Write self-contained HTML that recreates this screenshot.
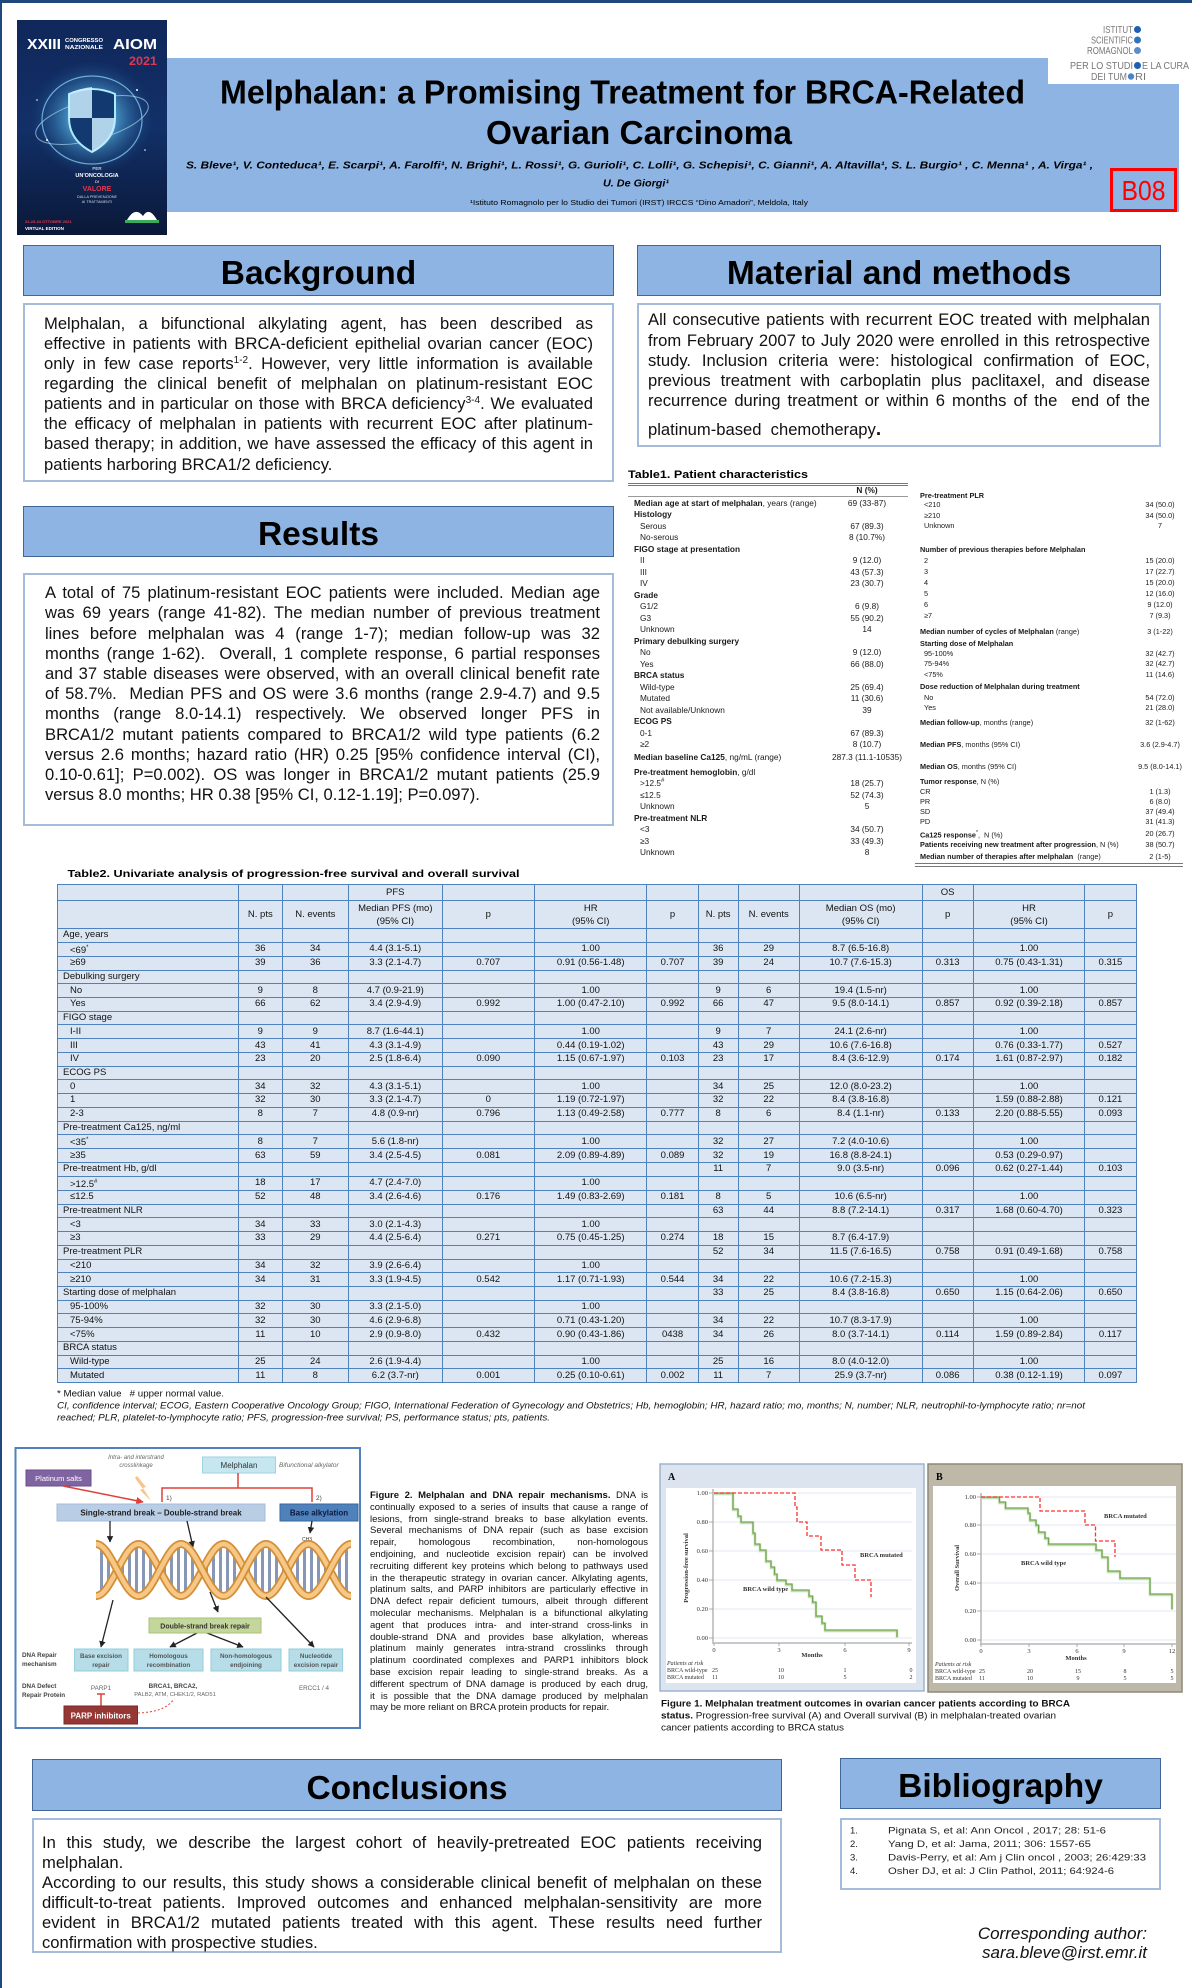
<!DOCTYPE html>
<html><head><meta charset="utf-8">
<style>
*{box-sizing:border-box}
body{margin:0;background:#fff}
#p{position:relative;width:1192px;height:1988px;overflow:hidden;background:#fff;font-family:"Liberation Sans",Arial,sans-serif;color:#000}
.a{position:absolute}
.hdr{position:absolute;background:#8EB4E3;border:1.5px solid #41679A;font-weight:bold;font-size:33.5px;display:flex;align-items:center;justify-content:center;color:#000;padding-top:7px;line-height:34px}
.box{position:absolute;background:#fff;border:2px solid #A4BBD9}
.ln{position:absolute;height:20px;line-height:20px;font-size:16.6px;overflow:hidden;color:#111}
.j{text-align:justify;text-align-last:justify}
.ln sup{font-size:10px;line-height:0;vertical-align:6px}
.r,.q{position:absolute;height:11px;line-height:11px;white-space:nowrap;color:#1a1a1a}
.r{left:628px;width:280px;font-size:8.3px}
.q{left:915px;width:272px;font-size:7.3px}
.r span,.q span{position:absolute;top:0}
.r .l{left:6px}.r .i{left:12px}.r .v{left:199px;width:80px;text-align:center}
.q .l{left:5px}.q .i{left:9px}.q .v{left:205px;width:80px;text-align:center}
.r sup{font-size:6px;line-height:0}
.t2{position:absolute;left:57px;top:884px;border-collapse:collapse;table-layout:fixed;width:1079px;background:#DCE6F2;font-size:9.5px;color:#111}
.t2 td{border:1px solid #4F81BD;padding:0;text-align:center;line-height:10px;white-space:nowrap;overflow:hidden}
.t2 tr{height:13.73px}
.t2 tr.h1{height:16px}
.t2 tr.h2{height:28px}
.t2 tr.h2 td{line-height:13px}
.t2 td.l{text-align:left;padding-left:5px}
.t2 td.s{text-align:left;padding-left:12px}
.fc{position:absolute;left:370px;width:278px;height:11.8px;line-height:11.8px;font-size:9.5px;overflow:hidden;color:#111}
</style></head><body><div id="p">

<!-- outer frame lines -->
<div class="a" style="left:0;top:0;width:1192px;height:3px;background:#1F497D"></div>
<div class="a" style="left:0;top:0;width:2px;height:1988px;background:#1F497D"></div>

<!-- title band -->
<div class="a" style="left:167px;top:58px;width:1012px;height:154px;background:#8EB4E3"></div>

<!-- section headers & boxes -->
<div class="hdr" style="left:23px;top:245px;width:591px;height:51px">Background</div>
<div class="hdr" style="left:637px;top:245px;width:524px;height:51px">Material and methods</div>
<div class="box" style="left:23px;top:303px;width:591px;height:179px"></div>
<div class="box" style="left:637px;top:303px;width:524px;height:144px"></div>
<div class="hdr" style="left:23px;top:506px;width:591px;height:51px">Results</div>
<div class="box" style="left:23px;top:573px;width:591px;height:253px"></div>
<div class="hdr" style="left:32px;top:1759px;width:750px;height:52px">Conclusions</div>
<div class="box" style="left:32px;top:1818px;width:750px;height:135px"></div>
<div class="hdr" style="left:840px;top:1758px;width:321px;height:51px">Bibliography</div>
<div class="box" style="left:840px;top:1818px;width:321px;height:72px"></div>

<!-- Background text -->
<div class="ln j" style="left:44px;top:314px;width:549px">Melphalan, a bifunctional alkylating agent, has been described as</div>
<div class="ln j" style="left:44px;top:334px;width:549px">effective in patients with BRCA-deficient epithelial ovarian cancer (EOC)</div>
<div class="ln j" style="left:44px;top:354px;width:549px">only in few case reports<sup>1-2</sup>. However, very little information is available</div>
<div class="ln j" style="left:44px;top:374px;width:549px">regarding the clinical benefit of melphalan on platinum-resistant EOC</div>
<div class="ln j" style="left:44px;top:394px;width:549px">patients and in particular on those with BRCA deficiency<sup>3-4</sup>. We evaluated</div>
<div class="ln j" style="left:44px;top:414px;width:549px">the efficacy of melphalan in patients with recurrent EOC after platinum-</div>
<div class="ln j" style="left:44px;top:434px;width:549px">based therapy; in addition, we have assessed the efficacy of this agent in</div>
<div class="ln" style="left:44px;top:455px;width:549px">patients harboring BRCA1/2 deficiency.</div>

<!-- Material text -->
<div class="ln j" style="left:648px;top:310px;width:502px">All consecutive patients with recurrent EOC treated with melphalan</div>
<div class="ln j" style="left:648px;top:331px;width:502px">from February 2007 to July 2020 were enrolled in this retrospective</div>
<div class="ln j" style="left:648px;top:351px;width:502px">study. Inclusion criteria were: histological confirmation of EOC,</div>
<div class="ln j" style="left:648px;top:371px;width:502px">previous treatment with carboplatin plus paclitaxel, and disease</div>
<div class="ln j" style="left:648px;top:391px;width:502px">recurrence during treatment or within 6 months of the &nbsp;end of the</div>
<div class="ln" style="left:648px;top:420px;width:502px;height:22px">platinum-based &nbsp;chemotherapy<b style="font-size:19px">.</b></div>

<!-- Results text -->
<div class="ln j" style="left:45px;top:583px;width:555px">A total of 75 platinum-resistant EOC patients were included. Median age</div>
<div class="ln j" style="left:45px;top:603px;width:555px">was 69 years (range 41-82). The median number of previous treatment</div>
<div class="ln j" style="left:45px;top:624px;width:555px">lines before melphalan was 4 (range 1-7); median follow-up was 32</div>
<div class="ln j" style="left:45px;top:644px;width:555px">months (range 1-62). &nbsp;Overall, 1 complete response, 6 partial responses</div>
<div class="ln j" style="left:45px;top:664px;width:555px">and 37 stable diseases were observed, with an overall clinical benefit rate</div>
<div class="ln j" style="left:45px;top:684px;width:555px">of 58.7%. &nbsp;Median PFS and OS were 3.6 months (range 2.9-4.7) and 9.5</div>
<div class="ln j" style="left:45px;top:704px;width:555px">months (range 8.0-14.1) respectively. We observed longer PFS in</div>
<div class="ln j" style="left:45px;top:725px;width:555px">BRCA1/2 mutant patients compared to BRCA1/2 wild type patients (6.2</div>
<div class="ln j" style="left:45px;top:745px;width:555px">versus 2.6 months; hazard ratio (HR) 0.25 [95% confidence interval (CI),</div>
<div class="ln j" style="left:45px;top:765px;width:555px">0.10-0.61]; P=0.002). OS was longer in BRCA1/2 mutant patients (25.9</div>
<div class="ln" style="left:45px;top:785px;width:555px">versus 8.0 months; HR 0.38 [95% CI, 0.12-1.19]; P=0.097).</div>

<!-- Conclusions text -->
<div class="ln j" style="left:42px;top:1833px;width:720px">In this study, we describe the largest cohort of heavily-pretreated EOC patients receiving</div>
<div class="ln" style="left:42px;top:1853px;width:720px">melphalan.</div>
<div class="ln j" style="left:42px;top:1873px;width:720px">According to our results, this study shows a considerable clinical benefit of melphalan on these</div>
<div class="ln j" style="left:42px;top:1893px;width:720px">difficult-to-treat patients. Improved outcomes and enhanced melphalan-sensitivity are more</div>
<div class="ln j" style="left:42px;top:1913px;width:720px">evident in BRCA1/2 mutated patients treated with this agent. These results need further</div>
<div class="ln" style="left:42px;top:1933px;width:720px">confirmation with prospective studies.</div>

<!-- Table 1 -->
<div class="a" style="left:628px;top:482.5px;width:280px;height:1px;background:#777"></div>
<div class="a" style="left:628px;top:485px;width:280px;height:1px;background:#777"></div>
<div class="a" style="left:628px;top:496px;width:280px;height:1px;background:#999"></div>
<div class="r" style="top:484.5px"><span class="v"><b>N (%)</b></span></div>
<div class="r" style="top:497.5px"><span class="l"><b>Median age at start of melphalan</b>, years (range)</span><span class="v">69 (33-87)</span></div>
<div class="r" style="top:509px"><span class="l"><b>Histology</b></span></div>
<div class="r" style="top:520.5px"><span class="i">Serous</span><span class="v">67 (89.3)</span></div>
<div class="r" style="top:532px"><span class="i">No-serous</span><span class="v">8 (10.7%)</span></div>
<div class="r" style="top:543.5px"><span class="l"><b>FIGO stage at presentation</b></span></div>
<div class="r" style="top:555px"><span class="i">II</span><span class="v">9 (12.0)</span></div>
<div class="r" style="top:566.5px"><span class="i">III</span><span class="v">43 (57.3)</span></div>
<div class="r" style="top:578px"><span class="i">IV</span><span class="v">23 (30.7)</span></div>
<div class="r" style="top:589.5px"><span class="l"><b>Grade</b></span></div>
<div class="r" style="top:601px"><span class="i">G1/2</span><span class="v">6 (9.8)</span></div>
<div class="r" style="top:612.5px"><span class="i">G3</span><span class="v">55 (90.2)</span></div>
<div class="r" style="top:624px"><span class="i">Unknown</span><span class="v">14</span></div>
<div class="r" style="top:635.5px"><span class="l"><b>Primary debulking surgery</b></span></div>
<div class="r" style="top:647px"><span class="i">No</span><span class="v">9 (12.0)</span></div>
<div class="r" style="top:658.5px"><span class="i">Yes</span><span class="v">66 (88.0)</span></div>
<div class="r" style="top:670px"><span class="l"><b>BRCA status</b></span></div>
<div class="r" style="top:681.5px"><span class="i">Wild-type</span><span class="v">25 (69.4)</span></div>
<div class="r" style="top:693px"><span class="i">Mutated</span><span class="v">11 (30.6)</span></div>
<div class="r" style="top:704.5px"><span class="i">Not available/Unknown</span><span class="v">39</span></div>
<div class="r" style="top:716px"><span class="l"><b>ECOG PS</b></span></div>
<div class="r" style="top:727.5px"><span class="i">0-1</span><span class="v">67 (89.3)</span></div>
<div class="r" style="top:739px"><span class="i">≥2</span><span class="v">8 (10.7)</span></div>
<div class="r" style="top:752px"><span class="l"><b>Median baseline Ca125</b>, ng/mL (range)</span><span class="v" style="left:189px;width:100px">287.3 (11.1-10535)</span></div>
<div class="r" style="top:766.5px"><span class="l"><b>Pre-treatment hemoglobin</b>, g/dl</span></div>
<div class="r" style="top:778px"><span class="i">&gt;12.5<sup>#</sup></span><span class="v">18 (25.7)</span></div>
<div class="r" style="top:789.5px"><span class="i">≤12.5</span><span class="v">52 (74.3)</span></div>
<div class="r" style="top:801px"><span class="i">Unknown</span><span class="v">5</span></div>
<div class="r" style="top:812.5px"><span class="l"><b>Pre-treatment NLR</b></span></div>
<div class="r" style="top:824px"><span class="i">&lt;3</span><span class="v">34 (50.7)</span></div>
<div class="r" style="top:835.5px"><span class="i">≥3</span><span class="v">33 (49.3)</span></div>
<div class="r" style="top:847px"><span class="i">Unknown</span><span class="v">8</span></div>

<div class="q" style="top:489.5px"><span class="l"><b>Pre-treatment PLR</b></span></div>
<div class="q" style="top:499px"><span class="i">&lt;210</span><span class="v">34 (50.0)</span></div>
<div class="q" style="top:509.5px"><span class="i">≥210</span><span class="v">34 (50.0)</span></div>
<div class="q" style="top:519.5px"><span class="i">Unknown</span><span class="v">7</span></div>
<div class="q" style="top:543.5px"><span class="l"><b>Number of previous therapies before Melphalan</b></span></div>
<div class="q" style="top:554.5px"><span class="i">2</span><span class="v">15 (20.0)</span></div>
<div class="q" style="top:565.5px"><span class="i">3</span><span class="v">17 (22.7)</span></div>
<div class="q" style="top:576.5px"><span class="i">4</span><span class="v">15 (20.0)</span></div>
<div class="q" style="top:587.5px"><span class="i">5</span><span class="v">12 (16.0)</span></div>
<div class="q" style="top:598.5px"><span class="i">6</span><span class="v">9 (12.0)</span></div>
<div class="q" style="top:609.5px"><span class="i">≥7</span><span class="v">7 (9.3)</span></div>
<div class="q" style="top:625.5px"><span class="l"><b>Median number of cycles of Melphalan</b> (range)</span><span class="v">3 (1-22)</span></div>
<div class="q" style="top:637.5px"><span class="l"><b>Starting dose of Melphalan</b></span></div>
<div class="q" style="top:647.5px"><span class="i">95-100%</span><span class="v">32 (42.7)</span></div>
<div class="q" style="top:657.5px"><span class="i">75-94%</span><span class="v">32 (42.7)</span></div>
<div class="q" style="top:668.5px"><span class="i">&lt;75%</span><span class="v">11 (14.6)</span></div>
<div class="q" style="top:680.5px"><span class="l"><b>Dose reduction of Melphalan during treatment</b></span></div>
<div class="q" style="top:691.5px"><span class="i">No</span><span class="v">54 (72.0)</span></div>
<div class="q" style="top:701.5px"><span class="i">Yes</span><span class="v">21 (28.0)</span></div>
<div class="q" style="top:716.5px"><span class="l"><b>Median follow-up</b>, months (range)</span><span class="v">32 (1-62)</span></div>
<div class="q" style="top:738.5px"><span class="l"><b>Median PFS</b>, months (95% CI)</span><span class="v">3.6 (2.9-4.7)</span></div>
<div class="q" style="top:760.5px"><span class="l"><b>Median OS</b>, months (95% CI)</span><span class="v">9.5 (8.0-14.1)</span></div>
<div class="q" style="top:775.5px"><span class="l"><b>Tumor response</b>, N (%)</span></div>
<div class="q" style="top:785.5px"><span class="l">CR</span><span class="v">1 (1.3)</span></div>
<div class="q" style="top:795.5px"><span class="l">PR</span><span class="v">6 (8.0)</span></div>
<div class="q" style="top:805.5px"><span class="l">SD</span><span class="v">37 (49.4)</span></div>
<div class="q" style="top:815.5px"><span class="l">PD</span><span class="v">31 (41.3)</span></div>
<div class="q" style="top:827.5px"><span class="l"><b>Ca125 response</b><sup style="font-size:5px">*</sup>, &nbsp;N (%)</span><span class="v">20 (26.7)</span></div>
<div class="q" style="top:838.5px"><span class="l"><b>Patients receiving new treatment after progression</b>, N (%)</span><span class="v">38 (50.7)</span></div>
<div class="q" style="top:850.5px"><span class="l"><b>Median number of therapies after melphalan</b> &nbsp;(range)</span><span class="v">2 (1-5)</span></div>
<div class="a" style="left:915px;top:863px;width:268px;height:1px;background:#777"></div>
<div class="a" style="left:915px;top:865.5px;width:268px;height:1px;background:#777"></div>

<!-- Table 2 -->
<table class="t2">
<colgroup><col style="width:181px"><col style="width:43.6px"><col style="width:66.4px"><col style="width:93.6px"><col style="width:92.4px"><col style="width:112.5px"><col style="width:51.2px"><col style="width:40px"><col style="width:61.1px"><col style="width:122.8px"><col style="width:51.2px"><col style="width:111.6px"><col style="width:51.2px"></colgroup>
<tr class="h1"><td></td><td></td><td></td><td>PFS</td><td></td><td></td><td></td><td></td><td></td><td></td><td>OS</td><td></td><td></td></tr>
<tr class="h2"><td></td><td>N. pts</td><td>N. events</td><td>Median PFS (mo)<br>(95% CI)</td><td>p</td><td>HR<br>(95% CI)</td><td>p</td><td>N. pts</td><td>N. events</td><td>Median OS (mo)<br>(95% CI)</td><td>p</td><td>HR<br>(95% CI)</td><td>p</td></tr>
<tr><td class="l">Age, years</td><td></td><td></td><td></td><td></td><td></td><td></td><td></td><td></td><td></td><td></td><td></td><td></td></tr>
<tr><td class="s">&lt;69<sup style="font-size:6px">*</sup></td><td>36</td><td>34</td><td>4.4 (3.1-5.1)</td><td></td><td>1.00</td><td></td><td>36</td><td>29</td><td>8.7 (6.5-16.8)</td><td></td><td>1.00</td><td></td></tr>
<tr><td class="s">≥69</td><td>39</td><td>36</td><td>3.3 (2.1-4.7)</td><td>0.707</td><td>0.91 (0.56-1.48)</td><td>0.707</td><td>39</td><td>24</td><td>10.7 (7.6-15.3)</td><td>0.313</td><td>0.75 (0.43-1.31)</td><td>0.315</td></tr>
<tr><td class="l">Debulking surgery</td><td></td><td></td><td></td><td></td><td></td><td></td><td></td><td></td><td></td><td></td><td></td><td></td></tr>
<tr><td class="s">No</td><td>9</td><td>8</td><td>4.7 (0.9-21.9)</td><td></td><td>1.00</td><td></td><td>9</td><td>6</td><td>19.4 (1.5-nr)</td><td></td><td>1.00</td><td></td></tr>
<tr><td class="s">Yes</td><td>66</td><td>62</td><td>3.4 (2.9-4.9)</td><td>0.992</td><td>1.00 (0.47-2.10)</td><td>0.992</td><td>66</td><td>47</td><td>9.5 (8.0-14.1)</td><td>0.857</td><td>0.92 (0.39-2.18)</td><td>0.857</td></tr>
<tr><td class="l">FIGO stage</td><td></td><td></td><td></td><td></td><td></td><td></td><td></td><td></td><td></td><td></td><td></td><td></td></tr>
<tr><td class="s">I-II</td><td>9</td><td>9</td><td>8.7 (1.6-44.1)</td><td></td><td>1.00</td><td></td><td>9</td><td>7</td><td>24.1 (2.6-nr)</td><td></td><td>1.00</td><td></td></tr>
<tr><td class="s">III</td><td>43</td><td>41</td><td>4.3 (3.1-4.9)</td><td></td><td>0.44 (0.19-1.02)</td><td></td><td>43</td><td>29</td><td>10.6 (7.6-16.8)</td><td></td><td>0.76 (0.33-1.77)</td><td>0.527</td></tr>
<tr><td class="s">IV</td><td>23</td><td>20</td><td>2.5 (1.8-6.4)</td><td>0.090</td><td>1.15 (0.67-1.97)</td><td>0.103</td><td>23</td><td>17</td><td>8.4 (3.6-12.9)</td><td>0.174</td><td>1.61 (0.87-2.97)</td><td>0.182</td></tr>
<tr><td class="l">ECOG PS</td><td></td><td></td><td></td><td></td><td></td><td></td><td></td><td></td><td></td><td></td><td></td><td></td></tr>
<tr><td class="s">0</td><td>34</td><td>32</td><td>4.3 (3.1-5.1)</td><td></td><td>1.00</td><td></td><td>34</td><td>25</td><td>12.0 (8.0-23.2)</td><td></td><td>1.00</td><td></td></tr>
<tr><td class="s">1</td><td>32</td><td>30</td><td>3.3 (2.1-4.7)</td><td>0</td><td>1.19 (0.72-1.97)</td><td></td><td>32</td><td>22</td><td>8.4 (3.8-16.8)</td><td></td><td>1.59 (0.88-2.88)</td><td>0.121</td></tr>
<tr><td class="s">2-3</td><td>8</td><td>7</td><td>4.8 (0.9-nr)</td><td>0.796</td><td>1.13 (0.49-2.58)</td><td>0.777</td><td>8</td><td>6</td><td>8.4 (1.1-nr)</td><td>0.133</td><td>2.20 (0.88-5.55)</td><td>0.093</td></tr>
<tr><td class="l">Pre-treatment Ca125, ng/ml</td><td></td><td></td><td></td><td></td><td></td><td></td><td></td><td></td><td></td><td></td><td></td><td></td></tr>
<tr><td class="s">&lt;35<sup style="font-size:6px">*</sup></td><td>8</td><td>7</td><td>5.6 (1.8-nr)</td><td></td><td>1.00</td><td></td><td>32</td><td>27</td><td>7.2 (4.0-10.6)</td><td></td><td>1.00</td><td></td></tr>
<tr><td class="s">≥35</td><td>63</td><td>59</td><td>3.4 (2.5-4.5)</td><td>0.081</td><td>2.09 (0.89-4.89)</td><td>0.089</td><td>32</td><td>19</td><td>16.8 (8.8-24.1)</td><td></td><td>0.53 (0.29-0.97)</td><td></td></tr>
<tr><td class="l">Pre-treatment Hb, g/dl</td><td></td><td></td><td></td><td></td><td></td><td></td><td>11</td><td>7</td><td>9.0 (3.5-nr)</td><td>0.096</td><td>0.62 (0.27-1.44)</td><td>0.103</td></tr>
<tr><td class="s">&gt;12.5<sup style="font-size:6px">#</sup></td><td>18</td><td>17</td><td>4.7 (2.4-7.0)</td><td></td><td>1.00</td><td></td><td></td><td></td><td></td><td></td><td></td><td></td></tr>
<tr><td class="s">≤12.5</td><td>52</td><td>48</td><td>3.4 (2.6-4.6)</td><td>0.176</td><td>1.49 (0.83-2.69)</td><td>0.181</td><td>8</td><td>5</td><td>10.6 (6.5-nr)</td><td></td><td>1.00</td><td></td></tr>
<tr><td class="l">Pre-treatment NLR</td><td></td><td></td><td></td><td></td><td></td><td></td><td>63</td><td>44</td><td>8.8 (7.2-14.1)</td><td>0.317</td><td>1.68 (0.60-4.70)</td><td>0.323</td></tr>
<tr><td class="s">&lt;3</td><td>34</td><td>33</td><td>3.0 (2.1-4.3)</td><td></td><td>1.00</td><td></td><td></td><td></td><td></td><td></td><td></td><td></td></tr>
<tr><td class="s">≥3</td><td>33</td><td>29</td><td>4.4 (2.5-6.4)</td><td>0.271</td><td>0.75 (0.45-1.25)</td><td>0.274</td><td>18</td><td>15</td><td>8.7 (6.4-17.9)</td><td></td><td></td><td></td></tr>
<tr><td class="l">Pre-treatment PLR</td><td></td><td></td><td></td><td></td><td></td><td></td><td>52</td><td>34</td><td>11.5 (7.6-16.5)</td><td>0.758</td><td>0.91 (0.49-1.68)</td><td>0.758</td></tr>
<tr><td class="s">&lt;210</td><td>34</td><td>32</td><td>3.9 (2.6-6.4)</td><td></td><td>1.00</td><td></td><td></td><td></td><td></td><td></td><td></td><td></td></tr>
<tr><td class="s">≥210</td><td>34</td><td>31</td><td>3.3 (1.9-4.5)</td><td>0.542</td><td>1.17 (0.71-1.93)</td><td>0.544</td><td>34</td><td>22</td><td>10.6 (7.2-15.3)</td><td></td><td>1.00</td><td></td></tr>
<tr><td class="l">Starting dose of melphalan</td><td></td><td></td><td></td><td></td><td></td><td></td><td>33</td><td>25</td><td>8.4 (3.8-16.8)</td><td>0.650</td><td>1.15 (0.64-2.06)</td><td>0.650</td></tr>
<tr><td class="s">95-100%</td><td>32</td><td>30</td><td>3.3 (2.1-5.0)</td><td></td><td>1.00</td><td></td><td></td><td></td><td></td><td></td><td></td><td></td></tr>
<tr><td class="s">75-94%</td><td>32</td><td>30</td><td>4.6 (2.9-6.8)</td><td></td><td>0.71 (0.43-1.20)</td><td></td><td>34</td><td>22</td><td>10.7 (8.3-17.9)</td><td></td><td>1.00</td><td></td></tr>
<tr><td class="s">&lt;75%</td><td>11</td><td>10</td><td>2.9 (0.9-8.0)</td><td>0.432</td><td>0.90 (0.43-1.86)</td><td>0438</td><td>34</td><td>26</td><td>8.0 (3.7-14.1)</td><td>0.114</td><td>1.59 (0.89-2.84)</td><td>0.117</td></tr>
<tr><td class="l">BRCA status</td><td></td><td></td><td></td><td></td><td></td><td></td><td></td><td></td><td></td><td></td><td></td><td></td></tr>
<tr><td class="s">Wild-type</td><td>25</td><td>24</td><td>2.6 (1.9-4.4)</td><td></td><td>1.00</td><td></td><td>25</td><td>16</td><td>8.0 (4.0-12.0)</td><td></td><td>1.00</td><td></td></tr>
<tr><td class="s">Mutated</td><td>11</td><td>8</td><td>6.2 (3.7-nr)</td><td>0.001</td><td>0.25 (0.10-0.61)</td><td>0.002</td><td>11</td><td>7</td><td>25.9 (3.7-nr)</td><td>0.086</td><td>0.38 (0.12-1.19)</td><td>0.097</td></tr>
</table>

<!-- Figure 2 caption -->
<div class="fc j" style="top:1490px"><b>Figure 2. Melphalan and DNA repair mechanisms.</b> DNA is</div>
<div class="fc j" style="top:1501.8px">continually exposed to a series of insults that cause a range of</div>
<div class="fc j" style="top:1513.6px">lesions, from single-strand breaks to base alkylation events.</div>
<div class="fc j" style="top:1525.4px">Several mechanisms of DNA repair (such as base excision</div>
<div class="fc j" style="top:1537.2px">repair, &nbsp;&nbsp; homologous &nbsp;&nbsp; recombination, &nbsp;&nbsp; non-homologous</div>
<div class="fc j" style="top:1549px">endjoining, and nucleotide excision repair) can be involved</div>
<div class="fc j" style="top:1560.8px">recruiting different key proteins which belong to pathways used</div>
<div class="fc j" style="top:1572.6px">in the therapeutic strategy in ovarian cancer. Alkylating agents,</div>
<div class="fc j" style="top:1584.4px">platinum salts, and PARP inhibitors are particularly effective in</div>
<div class="fc j" style="top:1596.2px">DNA defect repair deficient tumours, albeit through different</div>
<div class="fc j" style="top:1608px">molecular mechanisms. Melphalan is a bifunctional alkylating</div>
<div class="fc j" style="top:1619.8px">agent that produces intra- and inter-strand cross-links in</div>
<div class="fc j" style="top:1631.6px">double-strand DNA and provides base alkylation, whereas</div>
<div class="fc j" style="top:1643.4px">platinum mainly generates intra-strand crosslinks through</div>
<div class="fc j" style="top:1655.2px">platinum coordinated complexes and PARP1 inhibitors block</div>
<div class="fc j" style="top:1667px">base excision repair leading to single-strand breaks. As a</div>
<div class="fc j" style="top:1678.8px">different spectrum of DNA damage is produced by each drug,</div>
<div class="fc j" style="top:1690.6px">it is possible that the DNA damage produced by melphalan</div>
<div class="fc" style="top:1702.4px">may be more reliant on BRCA protein products for repair.</div>

<svg class="a" style="left:0;top:0" width="1192" height="1988" viewBox="0 0 1192 1988" font-family="Liberation Sans, Arial, sans-serif">
<defs>
<linearGradient id="cov" x1="0" y1="0" x2="0" y2="1"><stop offset="0" stop-color="#10275A"/><stop offset="0.5" stop-color="#123068"/><stop offset="1" stop-color="#0A1838"/></linearGradient>
<radialGradient id="glow" cx="0.5" cy="0.5" r="0.5"><stop offset="0" stop-color="#E0F8FF" stop-opacity="0.95"/><stop offset="0.35" stop-color="#5FC3F0" stop-opacity="0.7"/><stop offset="1" stop-color="#1B4D8F" stop-opacity="0"/></radialGradient>
<marker id="ab" viewBox="0 0 10 10" refX="9" refY="5" markerWidth="5" markerHeight="5" orient="auto"><path d="M0,0L10,5L0,10z" fill="#222"/></marker>
<marker id="ar" viewBox="0 0 10 10" refX="9" refY="5" markerWidth="5" markerHeight="5" orient="auto"><path d="M0,0L10,5L0,10z" fill="#E0403A"/></marker>
<pattern id="rung" width="7" height="10" patternUnits="userSpaceOnUse"><rect x="2" y="0" width="3" height="10" fill="#8797B5"/></pattern>
<clipPath id="hx"><path d="M96,1544 C111.3,1544 123.2,1596 138.5,1596 S165.7,1544 181,1544 S208.2,1596 223.5,1596 S250.7,1544 266,1544 S293.2,1596 308.5,1596 S335.7,1544 351,1544 L351,1596 C335.7,1596 323.8,1544 308.5,1544 S281.3,1596 266,1596 S238.8,1544 223.5,1544 S196.3,1596 181,1596 S153.8,1544 138.5,1544 S111.3,1596 96,1596 Z"/></clipPath>
</defs>

<!-- title -->
<text x="220" y="103.6" font-size="33.4" font-weight="bold" textLength="805" lengthAdjust="spacingAndGlyphs">Melphalan: a Promising Treatment for BRCA-Related</text>
<text x="486" y="144.1" font-size="33.4" font-weight="bold" textLength="306" lengthAdjust="spacingAndGlyphs">Ovarian Carcinoma</text>

<!-- cover image -->
<g transform="translate(17,20)">
<rect width="150" height="215" fill="url(#cov)"/>
<ellipse cx="75" cy="98" rx="62" ry="58" fill="url(#glow)"/>
<ellipse cx="75" cy="100" rx="50" ry="44" fill="none" stroke="#8fdcff" stroke-width="1.2" opacity="0.7"/>
<ellipse cx="75" cy="100" rx="58" ry="20" fill="none" stroke="#bfeaff" stroke-width="1" opacity="0.6" transform="rotate(-15 75 100)"/>
<path d="M52,74 Q75,64 98,74 L98,98 Q98,120 75,132 Q52,120 52,98Z" fill="#123a70" stroke="#aeeaff" stroke-width="2"/>
<path d="M52,74 Q63,68 75,67 L75,98 L52,98Z" fill="#cdefff" opacity="0.85"/>
<path d="M75,98 L98,98 Q98,120 75,132Z" fill="#cdefff" opacity="0.85"/>
<text x="10" y="29" font-size="15" font-weight="bold" fill="#fff" textLength="34" lengthAdjust="spacingAndGlyphs">XXIII</text>
<text x="48" y="22" font-size="5.5" font-weight="bold" fill="#fff" textLength="38" lengthAdjust="spacingAndGlyphs">CONGRESSO</text>
<text x="48" y="29" font-size="5.5" font-weight="bold" fill="#fff" textLength="38" lengthAdjust="spacingAndGlyphs">NAZIONALE</text>
<text x="96" y="29" font-size="15" font-weight="bold" fill="#fff" textLength="44" lengthAdjust="spacingAndGlyphs">AIOM</text>
<text x="112" y="45" font-size="12" font-weight="bold" fill="#E5364D" textLength="28" lengthAdjust="spacingAndGlyphs">2021</text>
<text x="80" y="150" font-size="4.5" fill="#fff" text-anchor="middle">PER</text>
<text x="80" y="157" font-size="5.5" font-weight="bold" fill="#fff" text-anchor="middle">UN'ONCOLOGIA</text>
<text x="80" y="163" font-size="4" fill="#fff" text-anchor="middle">DI</text>
<text x="80" y="171" font-size="7" font-weight="bold" fill="#E5364D" text-anchor="middle">VALORE</text>
<text x="80" y="178" font-size="3.8" fill="#cfd8ea" text-anchor="middle">DALLA PREVENZIONE</text>
<text x="80" y="183" font-size="3.8" fill="#cfd8ea" text-anchor="middle">AI TRATTAMENTI</text>
<text x="8" y="203" font-size="4" font-weight="bold" fill="#E5364D">22-23-24 OTTOBRE 2021</text>
<text x="8" y="210" font-size="4.5" font-weight="bold" fill="#fff">VIRTUAL EDITION</text>
<path d="M110,200 Q118,186 126,196 Q132,186 140,200 Z" fill="#fff"/>
<rect x="108" y="200" width="34" height="3" fill="#3BAA5C"/>
<circle cx="30" cy="120" r="1" fill="#fff"/><circle cx="120" cy="70" r="1" fill="#fff"/><circle cx="128" cy="130" r="0.8" fill="#fff"/><circle cx="20" cy="80" r="0.8" fill="#fff"/>
</g>

<!-- logo -->
<rect x="1048" y="20" width="144" height="64" fill="#fff"/>
<g font-size="10.5" fill="#777">
<text x="1133" y="33" text-anchor="end" textLength="30" lengthAdjust="spacingAndGlyphs">ISTITUT</text>
<text x="1133" y="43.5" text-anchor="end" textLength="42" lengthAdjust="spacingAndGlyphs">SCIENTIFIC</text>
<text x="1133" y="54" text-anchor="end" textLength="46" lengthAdjust="spacingAndGlyphs">ROMAGNOL</text>
<text x="1070" y="69" textLength="63" lengthAdjust="spacingAndGlyphs">PER LO STUDI</text>
<text x="1142" y="69" textLength="47" lengthAdjust="spacingAndGlyphs">E LA CURA</text>
<text x="1127" y="80" text-anchor="end" textLength="36" lengthAdjust="spacingAndGlyphs">DEI TUM</text>
<text x="1135" y="80" textLength="11" lengthAdjust="spacingAndGlyphs">RI</text>
</g>
<circle cx="1137.5" cy="29.5" r="3.5" fill="#1F5FAE"/>
<circle cx="1137.5" cy="40" r="3.5" fill="#2F72BE"/>
<circle cx="1137.5" cy="50.5" r="3.5" fill="#5A8ECB"/>
<circle cx="1137.5" cy="65.5" r="3.5" fill="#1F5FAE"/>
<circle cx="1131" cy="76.5" r="3.2" fill="#4A84C6"/>

<!-- authors -->
<text x="186" y="168.5" font-size="10" font-weight="bold" font-style="italic" textLength="907" lengthAdjust="spacingAndGlyphs">S. Bleve¹, V. Conteduca¹, E. Scarpi¹, A. Farolfi¹, N. Brighi¹, L. Rossi¹, G. Gurioli¹, C. Lolli¹, G. Schepisi¹, C. Gianni¹, A. Altavilla¹, S. L. Burgio¹ , C. Menna¹ , A. Virga¹ ,</text>
<text x="603" y="186.5" font-size="10" font-weight="bold" font-style="italic" textLength="66" lengthAdjust="spacingAndGlyphs">U. De Giorgi¹</text>
<text x="470" y="205" font-size="7.5" textLength="338" lengthAdjust="spacingAndGlyphs">¹Istituto Romagnolo per lo Studio dei Tumori (IRST) IRCCS “Dino Amadori”, Meldola, Italy</text>

<!-- B08 -->
<rect x="1111.5" y="169.5" width="64" height="41" fill="none" stroke="#FF0000" stroke-width="3"/>
<text x="1143.5" y="200" font-size="28" fill="#FF0000" text-anchor="middle" textLength="44" lengthAdjust="spacingAndGlyphs">B08</text>

<!-- table titles & footnotes -->
<text x="628" y="478" font-size="11" font-weight="bold" textLength="180" lengthAdjust="spacingAndGlyphs">Table1. Patient characteristics</text>
<text x="67.5" y="877" font-size="10.5" font-weight="bold" textLength="452" lengthAdjust="spacingAndGlyphs">Table2. Univariate analysis of progression-free survival and overall survival</text>
<text x="57" y="1396.5" font-size="9.5" fill="#111" textLength="167" lengthAdjust="spacingAndGlyphs">* Median value &#160;&#160;# upper normal value.</text>
<text x="57" y="1408.5" font-size="9.5" font-style="italic" fill="#111" textLength="1028" lengthAdjust="spacingAndGlyphs">CI, confidence interval; ECOG, Eastern Cooperative Oncology Group; FIGO, International Federation of Gynecology and Obstetrics; Hb, hemoglobin; HR, hazard ratio; mo, months; N, number; NLR, neutrophil-to-lymphocyte ratio; nr=not</text>
<text x="57" y="1420.5" font-size="9.5" font-style="italic" fill="#111" textLength="493" lengthAdjust="spacingAndGlyphs">reached; PLR, platelet-to-lymphocyte ratio; PFS, progression-free survival; PS, performance status; pts, patients.</text>

<!-- Figure 2 diagram -->
<rect x="15.5" y="1448" width="344.5" height="280" fill="#fff" stroke="#4F81BD" stroke-width="2"/>
<rect x="26" y="1470" width="65" height="16" fill="#8064A2" stroke="#6A4F8C"/>
<text x="58.5" y="1481" font-size="7.5" fill="#fff" text-anchor="middle">Platinum salts</text>
<text x="136" y="1459" font-size="6" font-style="italic" fill="#666" text-anchor="middle">Intra- and interstrand</text>
<text x="136" y="1467" font-size="6" font-style="italic" fill="#666" text-anchor="middle">crosslinkage</text>
<polygon points="137,1476 146,1487 143,1488 151,1501 140,1490 143,1489 135,1478" fill="#F7C48A"/>
<rect x="202.5" y="1457" width="73" height="16" fill="#C6E7F0" stroke="#9DD2E2"/>
<text x="239" y="1468" font-size="8" fill="#333" text-anchor="middle">Melphalan</text>
<text x="279" y="1467" font-size="6.5" font-style="italic" fill="#666">Bifunctional alkylator</text>
<path d="M238,1473 V1488 M162,1502 V1488 H312 V1502" stroke="#E0403A" stroke-width="1.5" fill="none"/>
<text x="166" y="1500" font-size="6.5" fill="#444">1)</text>
<text x="316" y="1500" font-size="6.5" fill="#444">2)</text>
<line x1="63" y1="1486" x2="143" y2="1502" stroke="#E0403A" stroke-width="1.5" marker-end="url(#ar)"/>
<rect x="57" y="1504" width="208" height="17" fill="#B9CDE5" stroke="#A3BCDB"/>
<text x="161" y="1515.5" font-size="8" font-weight="bold" fill="#222" text-anchor="middle">Single-strand break – Double-strand break</text>
<rect x="280" y="1504" width="78" height="17" fill="#4F81BD" stroke="#3A6698"/>
<text x="319" y="1515.5" font-size="8" font-weight="bold" fill="#10183a" text-anchor="middle">Base alkylation</text>
<g stroke="#222" stroke-width="1.3" marker-end="url(#ab)">
<line x1="110" y1="1521" x2="110" y2="1542"/>
<line x1="187" y1="1521" x2="193" y2="1547"/>
<line x1="312" y1="1521" x2="310" y2="1533"/>
</g>
<text x="307" y="1541" font-size="5" fill="#333" text-anchor="middle">CH3</text>
<rect x="96" y="1540" width="255" height="60" fill="url(#rung)" clip-path="url(#hx)"/>
<path d="M96,1596 C111.3,1596 123.2,1544 138.5,1544 S165.7,1596 181,1596 S208.2,1544 223.5,1544 S250.7,1596 266,1596 S293.2,1544 308.5,1544 S335.7,1596 351,1596" fill="none" stroke="#D38E36" stroke-width="8"/>
<path d="M96,1596 C111.3,1596 123.2,1544 138.5,1544 S165.7,1596 181,1596 S208.2,1544 223.5,1544 S250.7,1596 266,1596 S293.2,1544 308.5,1544 S335.7,1596 351,1596" fill="none" stroke="#F6C785" stroke-width="4.5"/>
<path d="M96,1544 C111.3,1544 123.2,1596 138.5,1596 S165.7,1544 181,1544 S208.2,1596 223.5,1596 S250.7,1544 266,1544 S293.2,1596 308.5,1596 S335.7,1544 351,1544" fill="none" stroke="#D38E36" stroke-width="8"/>
<path d="M96,1544 C111.3,1544 123.2,1596 138.5,1596 S165.7,1544 181,1544 S208.2,1596 223.5,1596 S250.7,1544 266,1544 S293.2,1596 308.5,1596 S335.7,1544 351,1544" fill="none" stroke="#F6C785" stroke-width="4.5"/>
<g stroke="#222" stroke-width="1.3" marker-end="url(#ab)">
<line x1="113" y1="1600" x2="101" y2="1647"/>
<line x1="210" y1="1592" x2="218" y2="1612"/>
<line x1="266" y1="1597" x2="314" y2="1647"/>
<line x1="197" y1="1633" x2="170" y2="1647"/>
<line x1="207" y1="1633" x2="243" y2="1647"/>
</g>
<rect x="149" y="1618" width="112" height="15" fill="#C3D69B" stroke="#A8C27A"/>
<text x="205" y="1628.5" font-size="7" font-weight="bold" fill="#333" text-anchor="middle">Double-strand break repair</text>
<g fill="#B7DEE8" stroke="#92CDDC">
<rect x="74.6" y="1649" width="53.4" height="22"/>
<rect x="134" y="1649" width="69" height="22"/>
<rect x="211" y="1649" width="70" height="22"/>
<rect x="289" y="1649" width="53.6" height="22"/>
</g>
<g font-size="6.3" font-weight="bold" fill="#555" text-anchor="middle">
<text x="101" y="1658">Base excision</text><text x="101" y="1667">repair</text>
<text x="168.5" y="1658">Homologous</text><text x="168.5" y="1667">recombination</text>
<text x="246" y="1658">Non-homologous</text><text x="246" y="1667">endjoining</text>
<text x="316" y="1658">Nucleotide</text><text x="316" y="1667">excision repair</text>
</g>
<g font-size="6.3" font-weight="bold" fill="#444">
<text x="22" y="1657">DNA Repair</text><text x="22" y="1666">mechanism</text>
<text x="22" y="1688">DNA Defect</text><text x="22" y="1697">Repair Protein</text>
</g>
<text x="101" y="1690" font-size="6.3" fill="#666" text-anchor="middle">PARP1</text>
<text x="173" y="1688" font-size="6.3" font-weight="bold" fill="#444" text-anchor="middle">BRCA1, BRCA2,</text>
<text x="175" y="1696" font-size="5.8" fill="#666" text-anchor="middle">PALB2, ATM, CHEK1/2, RAD51</text>
<text x="314" y="1690" font-size="6.3" fill="#666" text-anchor="middle">ERCC1 / 4</text>
<path d="M101,1694 V1706 M97,1694 H105" stroke="#E0403A" stroke-width="1.5"/>
<rect x="64" y="1706" width="73.5" height="18" fill="#953735" stroke="#7A2A28"/>
<text x="100.7" y="1718.5" font-size="8" font-weight="bold" fill="#fff" text-anchor="middle">PARP inhibitors</text>
<path d="M138,1713 Q165,1712 173,1700" fill="none" stroke="#E0403A" stroke-width="1" stroke-dasharray="2,2"/>

<!-- Figure 1 panel A -->
<rect x="660" y="1464" width="264" height="227" fill="#DCE5EF" stroke="#9FB3CC" stroke-width="1.5"/>
<rect x="666" y="1488" width="250" height="195" fill="#fff"/>
<text x="668" y="1480" font-family="Liberation Serif, serif" font-weight="bold" font-size="10">A</text>
<g stroke="#E1E9F1" stroke-width="1">
<line x1="713" y1="1493" x2="912" y2="1493"/><line x1="713" y1="1522" x2="912" y2="1522"/><line x1="713" y1="1551" x2="912" y2="1551"/><line x1="713" y1="1580" x2="912" y2="1580"/><line x1="713" y1="1609" x2="912" y2="1609"/><line x1="713" y1="1638" x2="912" y2="1638"/>
</g>
<path d="M713,1489V1643H912" stroke="#C8C8C8" stroke-width="2" fill="none"/>
<g stroke="#999" stroke-width="0.8"><line x1="709" y1="1493" x2="713" y2="1493"/><line x1="709" y1="1522" x2="713" y2="1522"/><line x1="709" y1="1551" x2="713" y2="1551"/><line x1="709" y1="1580" x2="713" y2="1580"/><line x1="709" y1="1609" x2="713" y2="1609"/><line x1="709" y1="1638" x2="713" y2="1638"/><line x1="714" y1="1643" x2="714" y2="1646"/><line x1="779" y1="1643" x2="779" y2="1646"/><line x1="845" y1="1643" x2="845" y2="1646"/><line x1="909" y1="1643" x2="909" y2="1646"/></g>
<g font-family="Liberation Serif, serif" font-size="6.5" fill="#333">
<text x="708" y="1495" text-anchor="end">1.00</text><text x="708" y="1524" text-anchor="end">0.80</text><text x="708" y="1553" text-anchor="end">0.60</text><text x="708" y="1582" text-anchor="end">0.40</text><text x="708" y="1611" text-anchor="end">0.20</text><text x="708" y="1640" text-anchor="end">0.00</text>
<text x="714" y="1652" text-anchor="middle">0</text><text x="779" y="1652" text-anchor="middle">3</text><text x="845" y="1652" text-anchor="middle">6</text><text x="909" y="1652" text-anchor="middle">9</text>
<text x="812" y="1657" text-anchor="middle" font-weight="bold">Months</text>
<text transform="translate(688,1568) rotate(-90)" text-anchor="middle" font-weight="bold">Progression-free survival</text>
<text x="860" y="1557" font-weight="bold">BRCA mutated</text>
<text x="743" y="1591" font-weight="bold">BRCA wild  type</text>
<text x="667" y="1665" font-style="italic" font-size="6">Patients at risk</text>
<text x="667" y="1672" font-size="6">BRCA wild-type</text><text x="667" y="1679" font-size="6">BRCA mutated</text>
<g font-size="6" text-anchor="middle"><text x="715" y="1672">25</text><text x="781" y="1672">10</text><text x="845" y="1672">1</text><text x="911" y="1672">0</text><text x="715" y="1679">11</text><text x="781" y="1679">10</text><text x="845" y="1679">5</text><text x="911" y="1679">2</text></g>
</g>
<path d="M714,1494 H733 V1510 H738 V1517 H741 V1523 H753 V1534 H755 V1545 H760 V1551 H766 V1562 H771 V1568 H774.5 V1575 H777 V1581 H786 V1585 H792 V1591 H809 V1597 H812.6 V1603 H816 V1617 H822 V1624 H825 V1631 H897 V1638" fill="none" stroke="#C5DDB4" stroke-width="2.5"/>
<path d="M714,1493 H733 V1509 H738 V1516 H741 V1522 H753 V1533 H755 V1544 H760 V1550 H766 V1561 H771 V1567 H774.5 V1574 H777 V1580 H786 V1584 H792 V1590 H809 V1596 H812.6 V1602 H816 V1616 H822 V1623 H825 V1630 H897 V1637" fill="none" stroke="#6FA74E" stroke-width="1.2"/>
<path d="M714,1493 H795 V1507 H797 V1522 H807 V1536 H821 V1550 H842 V1565 H855 V1580 H871 V1597" fill="none" stroke="#FF3030" stroke-width="1.3" stroke-dasharray="4,2"/>

<!-- Figure 1 panel B -->
<rect x="928" y="1464" width="254" height="228" fill="#BEB8A8" stroke="#8D8878" stroke-width="1.5"/>
<rect x="933" y="1486" width="243" height="197" fill="#fff"/>
<text x="936" y="1480" font-family="Liberation Serif, serif" font-weight="bold" font-size="10">B</text>
<g stroke="#E1E9F1" stroke-width="1">
<line x1="981" y1="1497" x2="1176" y2="1497"/><line x1="981" y1="1525" x2="1176" y2="1525"/><line x1="981" y1="1554" x2="1176" y2="1554"/><line x1="981" y1="1583" x2="1176" y2="1583"/><line x1="981" y1="1611" x2="1176" y2="1611"/><line x1="981" y1="1640" x2="1176" y2="1640"/>
</g>
<path d="M981,1493V1644H1176" stroke="#C8C8C8" stroke-width="2" fill="none"/>
<g stroke="#999" stroke-width="0.8"><line x1="977" y1="1497" x2="981" y2="1497"/><line x1="977" y1="1525" x2="981" y2="1525"/><line x1="977" y1="1554" x2="981" y2="1554"/><line x1="977" y1="1583" x2="981" y2="1583"/><line x1="977" y1="1611" x2="981" y2="1611"/><line x1="977" y1="1640" x2="981" y2="1640"/><line x1="981" y1="1644" x2="981" y2="1647"/><line x1="1029" y1="1644" x2="1029" y2="1647"/><line x1="1077" y1="1644" x2="1077" y2="1647"/><line x1="1124" y1="1644" x2="1124" y2="1647"/><line x1="1172" y1="1644" x2="1172" y2="1647"/></g>
<g font-family="Liberation Serif, serif" font-size="6.5" fill="#333">
<text x="976" y="1499" text-anchor="end">1.00</text><text x="976" y="1527" text-anchor="end">0.80</text><text x="976" y="1556" text-anchor="end">0.60</text><text x="976" y="1585" text-anchor="end">0.40</text><text x="976" y="1613" text-anchor="end">0.20</text><text x="976" y="1642" text-anchor="end">0.00</text>
<text x="981" y="1653" text-anchor="middle">0</text><text x="1029" y="1653" text-anchor="middle">3</text><text x="1077" y="1653" text-anchor="middle">6</text><text x="1124" y="1653" text-anchor="middle">9</text><text x="1172" y="1653" text-anchor="middle">12</text>
<text x="1076" y="1660" text-anchor="middle" font-weight="bold">Months</text>
<text transform="translate(959,1568) rotate(-90)" text-anchor="middle" font-weight="bold">Overall Survival</text>
<text x="1104" y="1518" font-weight="bold">BRCA mutated</text>
<text x="1021" y="1565" font-weight="bold">BRCA wild  type</text>
<text x="935" y="1666" font-style="italic" font-size="6">Patients at risk</text>
<text x="935" y="1673" font-size="6">BRCA wild-type</text><text x="935" y="1680" font-size="6">BRCA mutated</text>
<g font-size="6" text-anchor="middle"><text x="982" y="1673">25</text><text x="1030" y="1673">20</text><text x="1078" y="1673">15</text><text x="1125" y="1673">8</text><text x="1172" y="1673">5</text><text x="982" y="1680">11</text><text x="1030" y="1680">10</text><text x="1078" y="1680">9</text><text x="1125" y="1680">5</text><text x="1172" y="1680">5</text></g>
</g>
<path d="M981,1498 H999.4 V1503 H1005.5 V1509 H1028 V1514 H1030 V1521 H1036 V1526 H1038.6 V1533 H1045 V1539 H1048.5 V1545 H1096 V1551 H1102 V1558 H1108 V1572 H1120 V1579 H1150 V1595 H1172 V1610" fill="none" stroke="#C5DDB4" stroke-width="2.5"/>
<path d="M981,1497 H999.4 V1502 H1005.5 V1508 H1028 V1513 H1030 V1520 H1036 V1525 H1038.6 V1532 H1045 V1538 H1048.5 V1544 H1096 V1550 H1102 V1557 H1108 V1571 H1120 V1578 H1150 V1594 H1172 V1609" fill="none" stroke="#6FA74E" stroke-width="1.2"/>
<path d="M981,1497 H1040 V1511 H1085 V1525 H1095.5 V1541 H1115 V1557" fill="none" stroke="#FF3030" stroke-width="1.3" stroke-dasharray="4,2"/>

<!-- Figure 1 caption -->
<text x="661" y="1706.5" font-size="9" font-weight="bold" fill="#111" textLength="409" lengthAdjust="spacingAndGlyphs">Figure 1. Melphalan treatment outcomes in ovarian cancer patients according to BRCA</text>
<text x="661" y="1718.5" font-size="9" fill="#111" textLength="395" lengthAdjust="spacingAndGlyphs"><tspan font-weight="bold">status.</tspan> Progression-free survival (A) and Overall survival (B) in melphalan-treated ovarian</text>
<text x="661" y="1730.5" font-size="9" fill="#111" textLength="183" lengthAdjust="spacingAndGlyphs">cancer patients according to BRCA status</text>

<!-- Bibliography -->
<g font-size="9.5" fill="#222">
<text x="850" y="1833.5">1.</text><text x="888" y="1833.5" textLength="218" lengthAdjust="spacingAndGlyphs">Pignata S, et al: Ann Oncol , 2017; 28: 51-6</text>
<text x="850" y="1847">2.</text><text x="888" y="1847" textLength="203" lengthAdjust="spacingAndGlyphs">Yang D, et al: Jama, 2011; 306: 1557-65</text>
<text x="850" y="1860.5">3.</text><text x="888" y="1860.5" textLength="258" lengthAdjust="spacingAndGlyphs">Davis-Perry, et al: Am j Clin oncol , 2003; 26:429:33</text>
<text x="850" y="1874">4.</text><text x="888" y="1874" textLength="226" lengthAdjust="spacingAndGlyphs">Osher DJ, et al: J Clin Pathol, 2011; 64:924-6</text>
</g>
<text x="1147" y="1939" font-size="17" font-style="italic" fill="#111" text-anchor="end">Corresponding author:</text>
<text x="1147" y="1958" font-size="17" font-style="italic" fill="#111" text-anchor="end">sara.bleve@irst.emr.it</text>
</svg>
</div></body></html>
